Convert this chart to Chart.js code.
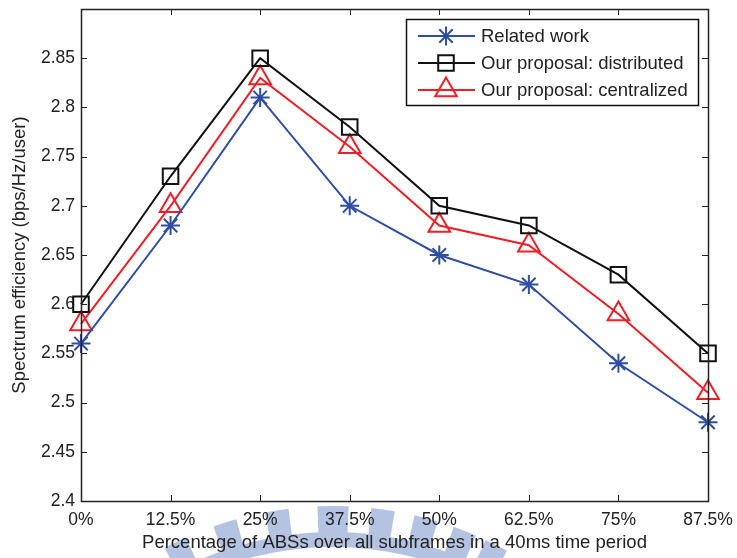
<!DOCTYPE html>
<html>
<head>
<meta charset="utf-8">
<script src="https://cdn.jsdelivr.net/npm/chart.js@4/dist/chart.umd.min.js"></script>
<style>
  html, body { margin: 0; padding: 0; background: #fff; }
  #wrap { width: 737px; height: 558px; }
</style>
</head>
<body>
<div id="wrap"><canvas id="grafica" width="737" height="558"></canvas></div>
<script>
// categories and series
var categorias = ['0%', '12.5%', '25%', '37.5%', '50%', '62.5%', '75%', '87.5%'];
var relatedWork = [2.56, 2.68, 2.81, 2.70, 2.65, 2.62, 2.54, 2.48];
var distribuido = [2.60, 2.73, 2.85, 2.78, 2.70, 2.68, 2.63, 2.55];
var centralizado = [2.58, 2.70, 2.83, 2.76, 2.68, 2.66, 2.59, 2.51];
var nombres = ['Related work', 'Our proposal: distributed', 'Our proposal: centralized'];
var yTicks = [2.4, 2.45, 2.5, 2.55, 2.6, 2.65, 2.7, 2.75, 2.8, 2.85, 2.9];

var fuente = 'Arial, "Liberation Sans", sans-serif';
var azul = '#2f4ea3', rojo = '#ee1f26', negro = '#111111';

// faint logo watermark behind the bottom of the figure
var marcaAgua = {
  id: 'marcaAgua',
  beforeDraw: function(chart) {
    var ctx = chart.ctx;
    var cx = 333, cy = 866;
    var rad = function(g) { return (g - 90) * Math.PI / 180; };
    ctx.save();
    ctx.fillStyle = '#b5c3e2';
    var angulos = [-26, -17.5, -9, 0, 8, 15, 21.5, 27];
    angulos.forEach(function(a) {
      var w = a === 0 ? 2.5 : 1.9;
      ctx.beginPath();
      ctx.arc(cx, cy, 360, rad(a - w), rad(a + w));
      ctx.arc(cx, cy, 330, rad(a + w), rad(a - w), true);
      ctx.closePath();
      ctx.fill();
    });
    ctx.beginPath();
    ctx.arc(cx, cy, 334, rad(-27), rad(27));
    ctx.arc(cx, cy, 319, rad(27), rad(-27), true);
    ctx.closePath();
    ctx.fill();
    ctx.restore();
  }
};

// MATLAB style box with ticks pointing inward
var caja = {
  id: 'caja',
  afterDatasetsDraw: function(chart) {
    var ctx = chart.ctx, a = chart.chartArea;
    var sx = chart.scales.x, sy = chart.scales.y;
    ctx.save();
    ctx.strokeStyle = '#222';
    ctx.lineWidth = 1;
    ctx.beginPath();
    for (var i = 0; i < categorias.length; i++) {
      var px = Math.round(sx.getPixelForValue(i)) + 0.5;
      ctx.moveTo(px, a.bottom); ctx.lineTo(px, a.bottom - 6);
      ctx.moveTo(px, a.top); ctx.lineTo(px, a.top + 6);
    }
    yTicks.forEach(function(v) {
      var py = Math.round(sy.getPixelForValue(v)) + 0.5;
      ctx.moveTo(a.left, py); ctx.lineTo(a.left + 6, py);
      ctx.moveTo(a.right, py); ctx.lineTo(a.right - 6, py);
    });
    ctx.stroke();
    ctx.lineWidth = 1.5;
    ctx.strokeRect(Math.round(a.left) + 0.5, Math.round(a.top) + 0.5,
      Math.round(a.right - a.left), Math.round(a.bottom - a.top));
    ctx.restore();
  }
};

// legend box drawn inside the axes, top right
var leyenda = {
  id: 'leyenda',
  afterDraw: function(chart) {
    var ctx = chart.ctx, a = chart.chartArea;
    var x0 = a.right - 302, y0 = a.top + 10, w = 292, h = 86;
    ctx.save();
    ctx.fillStyle = '#fff';
    ctx.fillRect(x0, y0, w, h);
    ctx.strokeStyle = '#111';
    ctx.lineWidth = 1.5;
    ctx.strokeRect(x0 + 0.5, y0 + 0.5, w, h);
    chart.data.datasets.forEach(function(ds, i) {
      var y = y0 + 17 + i * 27;
      ctx.strokeStyle = ds.borderColor;
      ctx.lineWidth = 2;
      ctx.beginPath();
      ctx.moveTo(x0 + 12, y); ctx.lineTo(x0 + 69, y);
      ctx.stroke();
      ctx.fillStyle = 'rgba(0,0,0,0)';
      Chart.helpers.drawPoint(ctx, {
        pointStyle: ds.pointStyle, radius: ds.pointRadius, rotation: 0, borderWidth: 2
      }, x0 + 40, y);
      ctx.fillStyle = '#222';
      ctx.font = '18.5px ' + fuente;
      ctx.textBaseline = 'middle';
      ctx.fillText(ds.label, x0 + 75, y + 1);
    });
    ctx.restore();
  }
};

function serie(nombre, datos, color, estilo, radio) {
  return {
    label: nombre,
    data: datos,
    borderColor: color,
    backgroundColor: 'rgba(0,0,0,0)',
    pointBorderColor: color,
    pointBackgroundColor: 'rgba(0,0,0,0)',
    pointStyle: estilo,
    pointRadius: radio,
    pointBorderWidth: 2,
    borderWidth: 2,
    tension: 0,
    clip: false
  };
}

var grafica = new Chart(document.getElementById('grafica').getContext('2d'), {
  type: 'line',
  data: {
    labels: categorias,
    datasets: [
      serie(nombres[0], relatedWork, azul, 'star', 9.5),
      serie(nombres[1], distribuido, negro, 'rect', 11),
      serie(nombres[2], centralizado, rojo, 'triangle', 12.5)
    ]
  },
  options: {
    responsive: false,
    animation: false,
    events: [],
    layout: { autoPadding: false, padding: { top: 9, right: 29, left: 0, bottom: 0 } },
    plugins: {
      legend: { display: false },
      tooltip: { enabled: false }
    },
    scales: {
      x: {
        type: 'category',
        offset: false,
        grid: { display: false, drawTicks: false },
        border: { display: false },
        ticks: {
          color: '#222', padding: 9, maxRotation: 0, autoSkip: false,
          font: { family: fuente, size: 17.5 }
        },
        title: {
          display: true,
          text: 'Percentage of ABSs over all subframes in a 40ms time period',
          color: '#222',
          font: { family: fuente, size: 18.5 },
          padding: { top: 2, bottom: 4 }
        },
        afterFit: function(s) {
          s.height = 57;
          s.paddingLeft = 0;
          s.paddingRight = 0;
        }
      },
      y: {
        min: 2.4,
        max: 2.9,
        grid: { display: false, drawTicks: false },
        border: { display: false },
        afterBuildTicks: function(s) {
          s.ticks = yTicks.map(function(v) { return { value: v }; });
        },
        ticks: {
          color: '#222', padding: 6,
          font: { family: fuente, size: 17.5 },
          callback: function(v) {
            if (v > 2.875) return '';
            return String(parseFloat(Number(v).toFixed(2)));
          }
        },
        title: {
          display: true,
          text: 'Spectrum efficiency (bps/Hz/user)',
          color: '#222',
          font: { family: fuente, size: 18.5 },
          padding: { top: 9, bottom: 9 }
        },
        afterFit: function(s) {
          s.width = 81;
          s.paddingTop = 0;
          s.paddingBottom = 0;
        }
      }
    }
  },
  plugins: [marcaAgua, caja, leyenda]
});
</script>
</body>
</html>
